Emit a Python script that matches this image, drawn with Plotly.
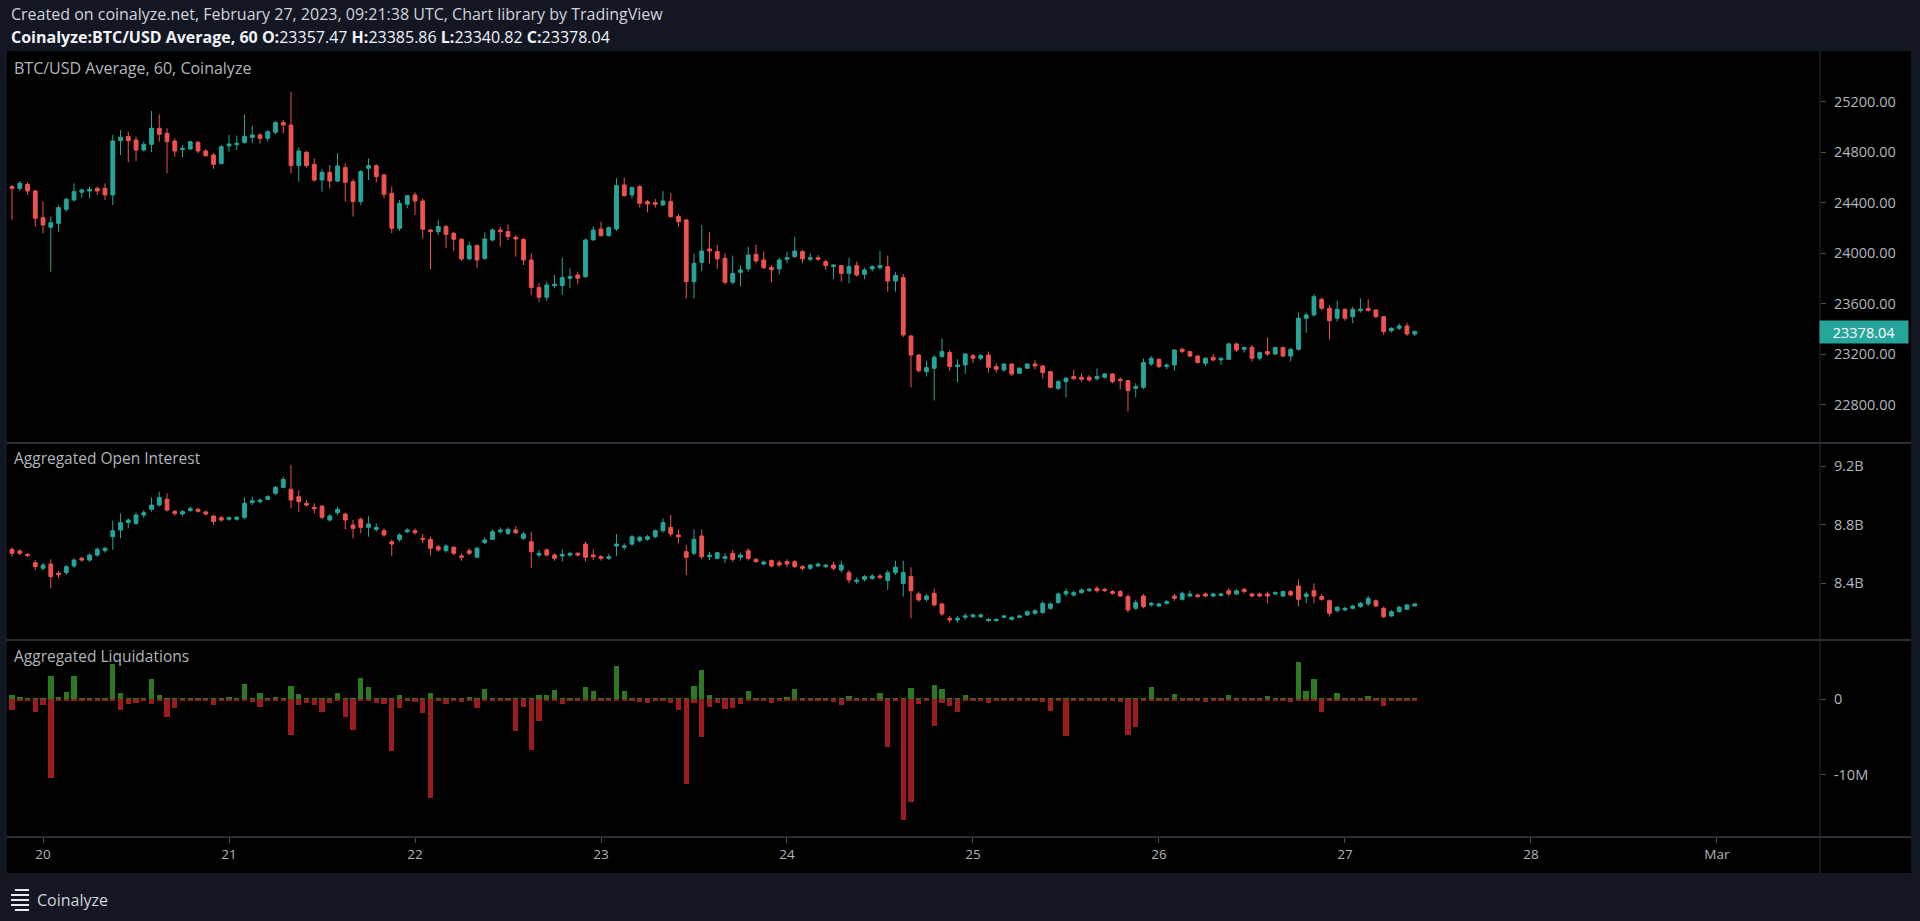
import pandas as pd
import plotly.graph_objects as go

W, H = 1920, 921

# ---------------- data (hourly, first candle 2023-02-19 20:00 UTC) ----------------
price_open = [
    24526, 24512, 24544, 24491, 24280, 24204, 24235, 24346, 24420, 24481, 24491, 24512, 24512, 24460, 24890, 24922, 24895, 24816, 24861, 24988, 24948, 24887, 24819, 24824,
    24877, 24808, 24776, 24708, 24848, 24858, 24874, 24914, 24935, 24908, 24956, 25033, 25014, 24692, 24798, 24702, 24578, 24639, 24570, 24676, 24565, 24407, 24671, 24692,
    24618, 24473, 24196, 24386, 24460, 24412, 24182, 24169, 24209, 24156, 24109, 23953, 24058, 23958, 24103, 24182, 24169, 24124, 24109, 23945, 23726, 23650, 23740, 23742,
    23800, 23826, 23813, 24103, 24190, 24138, 24190, 24539, 24460, 24526, 24407, 24399, 24380, 24407, 24288, 24262, 23773, 23926, 24032, 24011, 23958, 23768, 23847, 23874,
    23990, 23945, 23884, 23874, 23950, 23971, 24011, 23950, 23963, 23932, 23892, 23900, 23839, 23900, 23831, 23874, 23884, 23892, 23778, 23805, 23343, 23192, 23060, 23087,
    23179, 23211, 23100, 23113, 23187, 23166, 23192, 23100, 23074, 23121, 23047, 23087, 23121, 23105, 23060, 22928, 22981, 23021, 23016, 23016, 23005, 23016, 23042, 22999,
    22989, 22928, 22936, 23121, 23158, 23100, 23113, 23237, 23219, 23184, 23126, 23174, 23153, 23158, 23280, 23237, 23253, 23166, 23219, 23200, 23251, 23184, 23237, 23483,
    23509, 23633, 23562, 23483, 23554, 23496, 23544, 23562, 23549, 23496, 23385, 23404, 23422, 23357.47,
]
price_high = [
    24539, 24570, 24560, 24499, 24407, 24288, 24380, 24438, 24552, 24512, 24526, 24526, 24552, 24935, 24974, 24961, 24922, 24882, 25125, 25098, 24988, 24908, 24856, 24887,
    24887, 24824, 24790, 24856, 24935, 24930, 25098, 25009, 24948, 24974, 25046, 25054, 25278, 24834, 24808, 24750, 24666, 24697, 24790, 24710, 24586, 24658, 24750, 24702,
    24631, 24526, 24420, 24460, 24481, 24433, 24190, 24262, 24222, 24169, 24116, 24090, 24069, 24164, 24196, 24209, 24227, 24143, 24116, 23998, 23760, 23773, 23826, 23963,
    23879, 23852, 24116, 24209, 24248, 24209, 24592, 24597, 24526, 24539, 24420, 24428, 24491, 24473, 24307, 24270, 23998, 24222, 24164, 24064, 23998, 23979, 23905, 24050,
    24064, 24011, 23905, 23963, 24011, 24130, 24024, 23998, 23984, 23945, 23911, 23905, 23963, 23932, 23884, 23905, 24016, 23979, 23847, 23834, 23351, 23200, 23148, 23192,
    23324, 23232, 23158, 23206, 23200, 23200, 23219, 23126, 23126, 23126, 23095, 23126, 23153, 23113, 23068, 22994, 23016, 23074, 23047, 23034, 23087, 23047, 23047, 23016,
    22994, 22968, 23166, 23184, 23166, 23126, 23237, 23253, 23227, 23192, 23174, 23200, 23174, 23290, 23290, 23259, 23272, 23219, 23332, 23259, 23259, 23245, 23528, 23528,
    23676, 23649, 23588, 23623, 23562, 23575, 23641, 23633, 23554, 23501, 23412, 23443, 23448, 23385.86,
]
price_low = [
    24262, 24491, 24460, 24209, 24156, 23852, 24169, 24328, 24407, 24438, 24433, 24460, 24420, 24380, 24776, 24718, 24729, 24803, 24798, 24882, 24631, 24763, 24758, 24816,
    24790, 24763, 24666, 24702, 24803, 24816, 24869, 24869, 24869, 24882, 24940, 24948, 24631, 24565, 24676, 24565, 24486, 24512, 24560, 24407, 24288, 24380, 24578, 24560,
    24433, 24156, 24175, 24354, 24301, 24116, 23871, 24143, 24037, 24016, 23937, 23945, 23879, 23945, 24090, 24050, 24103, 23971, 23905, 23668, 23610, 23620, 23720, 23668,
    23720, 23752, 23800, 24100, 24130, 24130, 24175, 24446, 24428, 24359, 24322, 24359, 24375, 24280, 24209, 23640, 23640, 23858, 23918, 23874, 23752, 23752, 23734, 23852,
    23918, 23874, 23768, 23831, 23918, 23963, 23918, 23932, 23937, 23866, 23794, 23773, 23760, 23813, 23794, 23852, 23866, 23694, 23694, 23335, 22936, 23052, 23021, 22831,
    23174, 23068, 22976, 23042, 23126, 23148, 23052, 23052, 23060, 23026, 23042, 23087, 23079, 23008, 22928, 22915, 22857, 22994, 22981, 22981, 22989, 23005, 22968, 22920,
    22744, 22857, 22920, 23105, 23087, 23079, 23068, 23206, 23174, 23126, 23105, 23140, 23113, 23153, 23216, 23211, 23140, 23148, 23184, 23192, 23174, 23140, 23227, 23369,
    23496, 23549, 23316, 23456, 23464, 23443, 23528, 23536, 23483, 23351, 23369, 23390, 23343, 23340.82,
]
price_close = [
    24512, 24552, 24491, 24275, 24222, 24240, 24359, 24425, 24486, 24499, 24504, 24491, 24460, 24887, 24916, 24890, 24816, 24861, 24988, 24940, 24882, 24808, 24829, 24882,
    24808, 24771, 24702, 24842, 24864, 24869, 24924, 24935, 24908, 24961, 25033, 25014, 24692, 24808, 24692, 24578, 24639, 24570, 24689, 24560, 24407, 24644, 24692, 24605,
    24465, 24196, 24394, 24454, 24412, 24188, 24169, 24209, 24148, 24109, 23953, 24058, 23945, 24111, 24182, 24169, 24130, 24111, 23945, 23726, 23650, 23747, 23752, 23805,
    23813, 23800, 24103, 24182, 24138, 24201, 24534, 24454, 24518, 24394, 24388, 24386, 24412, 24288, 24248, 23773, 23918, 24016, 24016, 23953, 23768, 23839, 23866, 23984,
    23937, 23884, 23868, 23945, 23963, 24016, 23953, 23963, 23950, 23900, 23905, 23839, 23892, 23826, 23866, 23892, 23900, 23778, 23821, 23351, 23192, 23068, 23092, 23174,
    23219, 23100, 23113, 23200, 23166, 23187, 23095, 23079, 23121, 23042, 23087, 23121, 23105, 23052, 22936, 22981, 23008, 23005, 23000, 22994, 23021, 23042, 22981, 22989,
    22910, 22942, 23132, 23166, 23100, 23113, 23232, 23219, 23184, 23132, 23166, 23153, 23166, 23280, 23232, 23251, 23166, 23211, 23200, 23251, 23184, 23237, 23483, 23509,
    23654, 23562, 23464, 23554, 23483, 23554, 23554, 23544, 23496, 23377, 23404, 23422, 23359, 23378.04,
]

# aggregated open interest, in $ millions
oi_open = [
    8632, 8621, 8598, 8541, 8503, 8532, 8469, 8473, 8519, 8571, 8559, 8593, 8623, 8718, 8764, 8814, 8809, 8866, 8905, 8934, 8973, 8891, 8873, 8896,
    8905, 8887, 8859, 8848, 8837, 8837, 8850, 8950, 8957, 8973, 9014, 9055, 9041, 8991, 8946, 8918, 8927, 8832, 8882, 8873, 8798, 8837, 8782, 8768,
    8759, 8684, 8700, 8752, 8759, 8707, 8700, 8650, 8623, 8646, 8587, 8623, 8578, 8678, 8700, 8752, 8741, 8764, 8707, 8684, 8593, 8628, 8593, 8587,
    8593, 8605, 8668, 8593, 8582, 8571, 8655, 8646, 8668, 8691, 8700, 8718, 8759, 8782, 8730, 8616, 8605, 8723, 8582, 8571, 8571, 8605, 8578, 8623,
    8564, 8532, 8555, 8541, 8548, 8548, 8514, 8503, 8519, 8514, 8525, 8491, 8473, 8412, 8428, 8434, 8450, 8419, 8473, 8400, 8446, 8328, 8291, 8332,
    8260, 8162, 8151, 8169, 8173, 8173, 8146, 8146, 8169, 8155, 8169, 8185, 8196, 8201, 8230, 8269, 8328, 8321, 8337, 8350, 8366, 8360, 8344, 8344,
    8310, 8230, 8314, 8253, 8246, 8264, 8314, 8291, 8314, 8321, 8328, 8314, 8318, 8350, 8328, 8360, 8328, 8328, 8328, 8328, 8314, 8344, 8382, 8310,
    8350, 8310, 8282, 8214, 8219, 8230, 8242, 8260, 8282, 8230, 8178, 8207, 8223, 8246,
]
oi_high = [
    8646, 8632, 8605, 8559, 8541, 8564, 8487, 8525, 8571, 8582, 8605, 8646, 8650, 8827, 8877, 8843, 8882, 8900, 8986, 9025, 9014, 8900, 8900, 8923,
    8914, 8896, 8866, 8859, 8855, 8859, 8986, 8991, 8977, 9002, 9064, 9127, 9207, 9036, 8968, 8946, 8934, 8873, 8923, 8882, 8832, 8850, 8859, 8809,
    8775, 8700, 8741, 8775, 8775, 8737, 8718, 8662, 8668, 8655, 8605, 8639, 8650, 8714, 8768, 8782, 8782, 8791, 8752, 8752, 8628, 8639, 8605, 8632,
    8616, 8612, 8684, 8632, 8593, 8600, 8737, 8673, 8730, 8723, 8730, 8768, 8843, 8866, 8768, 8662, 8768, 8768, 8616, 8616, 8605, 8628, 8609, 8639,
    8571, 8555, 8564, 8559, 8564, 8559, 8525, 8532, 8541, 8532, 8548, 8555, 8491, 8441, 8457, 8464, 8464, 8491, 8555, 8555, 8510, 8344, 8328, 8366,
    8269, 8178, 8178, 8196, 8196, 8196, 8162, 8160, 8185, 8173, 8185, 8214, 8223, 8276, 8269, 8337, 8366, 8350, 8366, 8369, 8382, 8369, 8355, 8355,
    8328, 8287, 8328, 8273, 8269, 8287, 8328, 8344, 8350, 8332, 8337, 8337, 8335, 8366, 8360, 8369, 8337, 8337, 8344, 8346, 8350, 8355, 8428, 8344,
    8400, 8328, 8291, 8246, 8242, 8255, 8273, 8314, 8291, 8242, 8219, 8246, 8260, 8264,
]
oi_low = [
    8582, 8593, 8582, 8491, 8487, 8366, 8434, 8457, 8503, 8548, 8548, 8582, 8609, 8628, 8707, 8775, 8798, 8843, 8889, 8923, 8889, 8859, 8859, 8889,
    8882, 8864, 8798, 8821, 8827, 8827, 8837, 8934, 8946, 8968, 9002, 9048, 8911, 8889, 8923, 8877, 8837, 8821, 8866, 8768, 8707, 8741, 8718, 8752,
    8718, 8587, 8684, 8741, 8730, 8673, 8593, 8616, 8609, 8593, 8555, 8593, 8571, 8668, 8696, 8741, 8730, 8737, 8696, 8503, 8578, 8582, 8555, 8548,
    8582, 8582, 8548, 8559, 8555, 8559, 8587, 8628, 8655, 8678, 8691, 8707, 8746, 8718, 8673, 8457, 8593, 8564, 8559, 8564, 8537, 8548, 8555, 8555,
    8541, 8523, 8510, 8514, 8510, 8503, 8487, 8491, 8510, 8505, 8487, 8473, 8400, 8396, 8412, 8423, 8428, 8355, 8457, 8310, 8162, 8276, 8276, 8242,
    8178, 8132, 8132, 8151, 8162, 8162, 8137, 8137, 8162, 8146, 8162, 8178, 8187, 8192, 8219, 8260, 8310, 8310, 8328, 8341, 8337, 8341, 8323, 8305,
    8201, 8219, 8230, 8242, 8237, 8255, 8282, 8282, 8305, 8301, 8305, 8305, 8310, 8314, 8321, 8332, 8305, 8305, 8264, 8319, 8305, 8310, 8242, 8264,
    8264, 8282, 8173, 8201, 8210, 8223, 8233, 8246, 8237, 8162, 8173, 8201, 8219, 8242,
]
oi_close = [
    8605, 8605, 8589, 8514, 8525, 8446, 8460, 8514, 8559, 8559, 8593, 8632, 8639, 8759, 8814, 8832, 8866, 8882, 8934, 8986, 8900, 8877, 8889, 8911,
    8891, 8873, 8821, 8832, 8848, 8850, 8946, 8964, 8968, 8991, 9055, 9109, 8968, 8957, 8934, 8909, 8850, 8859, 8905, 8832, 8775, 8782, 8805, 8782,
    8730, 8668, 8730, 8764, 8746, 8700, 8639, 8628, 8655, 8605, 8578, 8605, 8639, 8696, 8752, 8764, 8768, 8746, 8737, 8616, 8605, 8593, 8571, 8598,
    8605, 8593, 8578, 8582, 8571, 8582, 8668, 8655, 8718, 8714, 8718, 8759, 8814, 8737, 8718, 8578, 8700, 8582, 8593, 8609, 8582, 8564, 8593, 8571,
    8548, 8546, 8519, 8525, 8532, 8514, 8503, 8525, 8532, 8525, 8503, 8525, 8423, 8423, 8446, 8450, 8441, 8473, 8510, 8473, 8350, 8287, 8314, 8253,
    8192, 8151, 8162, 8178, 8185, 8185, 8155, 8155, 8178, 8169, 8178, 8207, 8214, 8264, 8260, 8328, 8344, 8337, 8355, 8360, 8350, 8350, 8332, 8314,
    8219, 8269, 8242, 8264, 8260, 8276, 8298, 8332, 8328, 8310, 8314, 8328, 8328, 8328, 8350, 8344, 8314, 8314, 8314, 8337, 8344, 8321, 8291, 8328,
    8314, 8291, 8196, 8237, 8230, 8246, 8264, 8298, 8246, 8173, 8207, 8237, 8253, 8260,
]

# aggregated liquidations, in $ millions (shorts shown up in green, longs shown down in red)
liq_shorts = [
    0.57, 0.35, 0.05, 0.05, 0.05, 3.08, 0.35, 0.92, 3.08, 0.05, 0.05, 0.05, 0.05, 4.66, 0.88, 0.05, 0.05, 0.05, 2.64, 0.57, 0.05, 0.05, 0.05, 0.05,
    0.05, 0.05, 0.05, 0.05, 0.35, 0.05, 2.02, 0.05, 0.79, 0.05, 0.35, 0.05, 1.76, 0.70, 0.05, 0.05, 0.05, 0.05, 0.88, 0.05, 0.05, 2.77, 1.67, 0.05,
    0.05, 0.05, 0.57, 0.05, 0.05, 0.05, 0.79, 0.05, 0.05, 0.05, 0.05, 0.26, 0.05, 1.36, 0.05, 0.05, 0.05, 0.05, 0.05, 0.05, 0.57, 0.57, 1.23, 0.05,
    0.05, 0.05, 1.58, 1.14, 0.05, 0.05, 4.40, 1.14, 0.05, 0.05, 0.05, 0.05, 0.05, 0.05, 0.05, 0.05, 1.76, 3.87, 0.57, 0.05, 0.05, 0.05, 0.05, 1.14,
    0.05, 0.05, 0.05, 0.05, 0.35, 1.32, 0.05, 0.05, 0.05, 0.05, 0.05, 0.05, 0.44, 0.05, 0.05, 0.05, 0.88, 0.05, 0.05, 0.05, 1.45, 0.05, 0.05, 1.89,
    1.32, 0.05, 0.05, 0.57, 0.05, 0.05, 0.05, 0.05, 0.05, 0.05, 0.05, 0.05, 0.05, 0.05, 0.05, 0.05, 0.05, 0.05, 0.05, 0.05, 0.05, 0.05, 0.05, 0.05,
    0.05, 0.05, 0.05, 1.67, 0.05, 0.05, 0.70, 0.05, 0.05, 0.05, 0.05, 0.05, 0.05, 0.57, 0.05, 0.05, 0.05, 0.05, 0.44, 0.05, 0.05, 0.05, 4.97, 1.14,
    2.64, 0.05, 0.05, 0.88, 0.05, 0.05, 0.05, 0.44, 0.05, 0.05, 0.05, 0.05, 0.05, 0.05,
]
liq_longs = [
    1.41, 0.10, 0.18, 1.63, 0.75, 10.44, 0.10, 0.10, 0.10, 0.10, 0.10, 0.10, 0.18, 0.10, 1.41, 0.62, 0.53, 0.10, 0.62, 0.10, 2.29, 1.19, 0.10, 0.10,
    0.10, 0.10, 0.75, 0.10, 0.10, 0.10, 0.10, 0.31, 0.97, 0.10, 0.10, 0.10, 4.72, 0.75, 0.44, 0.75, 1.63, 0.53, 0.10, 2.38, 4.06, 0.10, 0.10, 0.44,
    0.62, 6.78, 1.19, 0.10, 0.31, 1.77, 13.08, 0.10, 0.62, 0.18, 0.31, 0.10, 1.19, 0.10, 0.10, 0.10, 0.10, 4.14, 0.97, 6.70, 2.82, 0.10, 0.10, 0.62,
    0.10, 0.10, 0.10, 0.10, 0.10, 0.10, 0.10, 0.10, 0.10, 0.31, 0.44, 0.10, 0.10, 0.53, 1.41, 11.19, 0.44, 4.94, 0.97, 0.53, 1.32, 1.19, 0.62, 0.10,
    0.10, 0.10, 0.53, 0.10, 0.10, 0.10, 0.10, 0.10, 0.10, 0.10, 0.31, 0.75, 0.18, 0.10, 0.10, 0.10, 0.10, 6.34, 0.10, 15.94, 13.52, 0.62, 0.10, 3.52,
    0.44, 0.88, 1.63, 0.10, 0.10, 0.10, 0.44, 0.10, 0.10, 0.10, 0.10, 0.10, 0.10, 0.31, 1.50, 0.10, 4.85, 0.10, 0.10, 0.10, 0.10, 0.10, 0.10, 0.31,
    4.72, 3.61, 0.10, 0.10, 0.10, 0.10, 0.10, 0.10, 0.10, 0.10, 0.31, 0.10, 0.10, 0.10, 0.10, 0.10, 0.10, 0.10, 0.10, 0.10, 0.10, 0.31, 0.10, 0.10,
    0.10, 1.63, 0.10, 0.10, 0.10, 0.10, 0.10, 0.10, 0.10, 0.88, 0.10, 0.10, 0.10, 0.10,
]

first_candle = "2023-02-19 20:00"
x_range = ["2023-02-19 19:21", "2023-03-01 13:18"]
date_ticks = ["2023-02-20", "2023-02-21", "2023-02-22", "2023-02-23", "2023-02-24",
              "2023-02-25", "2023-02-26", "2023-02-27", "2023-02-28", "2023-03-01"]
date_labels = ["20", "21", "22", "23", "24", "25", "26", "27", "28", "Mar"]
price_ticks = [22800, 23200, 23600, 24000, 24400, 24800, 25200]
oi_ticks = [8400, 8800, 9200]
oi_labels = ["8.4B", "8.8B", "9.2B"]
liq_ticks = [0, -10]
liq_labels = ["0", "-10M"]

times = pd.date_range(first_candle, periods=len(price_open), freq="h").strftime("%Y-%m-%d %H:%M").tolist()

# ---------------- styling ----------------
UP, DOWN = "#26a69a", "#ef5350"
LIQ_UP, LIQ_DOWN = "#2b7a1f", "#9a1c1c"
FRAME = "#131722"
SEP = "#2a2e39"
TXT = "#b2b5be"
FONT = "Open Sans"


def px_y(y):  # pixel row -> paper fraction
    return 1 - y / H


def px_x(x):
    return x / W


X0, X1 = 7, 1820        # plot area in px
PANEL_R = 1911
P_TOP, P_BOT = 51, 443
OI_BOT = 640
LIQ_BOT = 837
AX_BOT = 873

fig = go.Figure()

fig.add_trace(go.Candlestick(
    x=times, open=price_open, high=price_high, low=price_low, close=price_close,
    xaxis="x", yaxis="y",
    increasing=dict(line=dict(color=UP, width=1), fillcolor=UP),
    decreasing=dict(line=dict(color=DOWN, width=1), fillcolor=DOWN),
    whiskerwidth=0, showlegend=False, hoverinfo="skip",
))
fig.add_trace(go.Candlestick(
    x=times, open=oi_open, high=oi_high, low=oi_low, close=oi_close,
    xaxis="x", yaxis="y2",
    increasing=dict(line=dict(color=UP, width=1), fillcolor=UP),
    decreasing=dict(line=dict(color=DOWN, width=1), fillcolor=DOWN),
    whiskerwidth=0, showlegend=False, hoverinfo="skip",
))
bar_w = 0.7 * 3600 * 1000
fig.add_trace(go.Bar(x=times, y=liq_shorts, xaxis="x", yaxis="y3", marker=dict(color=LIQ_UP, line=dict(width=0)),
                     width=bar_w, showlegend=False, hoverinfo="skip"))
fig.add_trace(go.Bar(x=times, y=[-v for v in liq_longs], xaxis="x", yaxis="y3",
                     marker=dict(color=LIQ_DOWN, line=dict(width=0)),
                     width=bar_w, showlegend=False, hoverinfo="skip"))

yax_common = dict(side="right", anchor="x", showgrid=False, zeroline=False, showline=False,
                  ticks="outside", ticklen=5, tickcolor="#4a4e59", tickwidth=1, ticklabelstandoff=5,
                  tickfont=dict(family=FONT, size=14.5, color=TXT), fixedrange=True)

fig.update_layout(
    width=W, height=H, margin=dict(l=0, r=0, t=0, b=0),
    paper_bgcolor=FRAME, plot_bgcolor="#000000",
    barmode="overlay", bargap=0,
    font=dict(family=FONT, color=TXT),
    xaxis=dict(domain=[px_x(X0), px_x(X1)], anchor="y3", type="date", range=x_range,
               showgrid=False, zeroline=False, showline=False, rangeslider=dict(visible=False),
               tickvals=date_ticks, ticktext=date_labels, ticks="outside", ticklen=5,
               tickcolor="#4a4e59", tickfont=dict(family=FONT, size=13.5, color=TXT)),
    yaxis=dict(domain=[px_y(P_BOT), px_y(P_TOP)], range=[22495, 25600],
               tickvals=price_ticks, ticktext=[f"{v:.2f}" for v in price_ticks], **yax_common),
    yaxis2=dict(domain=[px_y(OI_BOT), px_y(P_BOT)], range=[8014, 9357],
                tickvals=oi_ticks, ticktext=oi_labels, **yax_common),
    yaxis3=dict(domain=[px_y(LIQ_BOT), px_y(OI_BOT)], range=[-18.19, 7.83],
                tickvals=liq_ticks, ticktext=liq_labels, **yax_common),
)

shapes = []
# black chart panel (incl. price scale and time scale)
shapes.append(dict(type="rect", xref="paper", yref="paper", layer="below",
                   x0=px_x(X0), x1=px_x(PANEL_R), y0=px_y(AX_BOT), y1=px_y(P_TOP),
                   fillcolor="#000000", line=dict(width=0)))
# separators
for yy in (P_BOT, OI_BOT, LIQ_BOT):
    shapes.append(dict(type="line", xref="paper", yref="paper", x0=px_x(X0), x1=px_x(PANEL_R),
                       y0=px_y(yy), y1=px_y(yy), line=dict(color=SEP, width=2)))
shapes.append(dict(type="line", xref="paper", yref="paper", x0=px_x(X1), x1=px_x(X1),
                   y0=px_y(AX_BOT), y1=px_y(P_TOP), line=dict(color=SEP, width=1)))
# footer logo lines
for i, yy in enumerate((890, 895, 900, 905, 910)):
    shapes.append(dict(type="line", xref="paper", yref="paper", x0=px_x(11 + (4 if i in (0, 4) else 0)), x1=px_x(29),
                       y0=px_y(yy), y1=px_y(yy), line=dict(color="#e8eaf0", width=2)))
fig.update_layout(shapes=shapes)

last = len(price_close) - 1
ann = [
    dict(text="Created on coinalyze.net, February 27, 2023, 09:21:38 UTC, Chart library by TradingView",
         x=px_x(9), y=px_y(14), font=dict(size=16, color="#d1d4dc")),
    dict(text=(f"<b>Coinalyze:BTC/USD Average, 60 O:</b>{price_open[last]:.2f} <b>H:</b>{price_high[last]:.2f} "
               f"<b>L:</b>{price_low[last]:.2f} <b>C:</b>{price_close[last]:.2f}"),
         x=px_x(9), y=px_y(37), font=dict(size=16, color="#f0f3fa")),
    dict(text="BTC/USD Average, 60, Coinalyze", x=px_x(12), y=px_y(68), font=dict(size=16, color=TXT)),
    dict(text="Aggregated Open Interest", x=px_x(12), y=px_y(458), font=dict(size=15.5, color=TXT)),
    dict(text="Aggregated Liquidations", x=px_x(12), y=px_y(656), font=dict(size=15.5, color=TXT)),
    dict(text="Coinalyze", x=px_x(35), y=px_y(900), font=dict(size=16, color="#d1d4dc")),
]
for a in ann:
    a.update(xref="paper", yref="paper", xanchor="left", yanchor="middle", showarrow=False)
    a["font"]["family"] = FONT
ann.append(dict(text=f"{price_close[last]:.2f}", xref="paper", yref="y", x=px_x(X1 - 1), y=price_close[last],
                xanchor="left", yanchor="middle", showarrow=False, bgcolor=UP, width=86, height=20,
                font=dict(family=FONT, size=14.5, color="#ffffff"), align="center"))
fig.update_layout(annotations=ann)

fig.write_html("out.html")
